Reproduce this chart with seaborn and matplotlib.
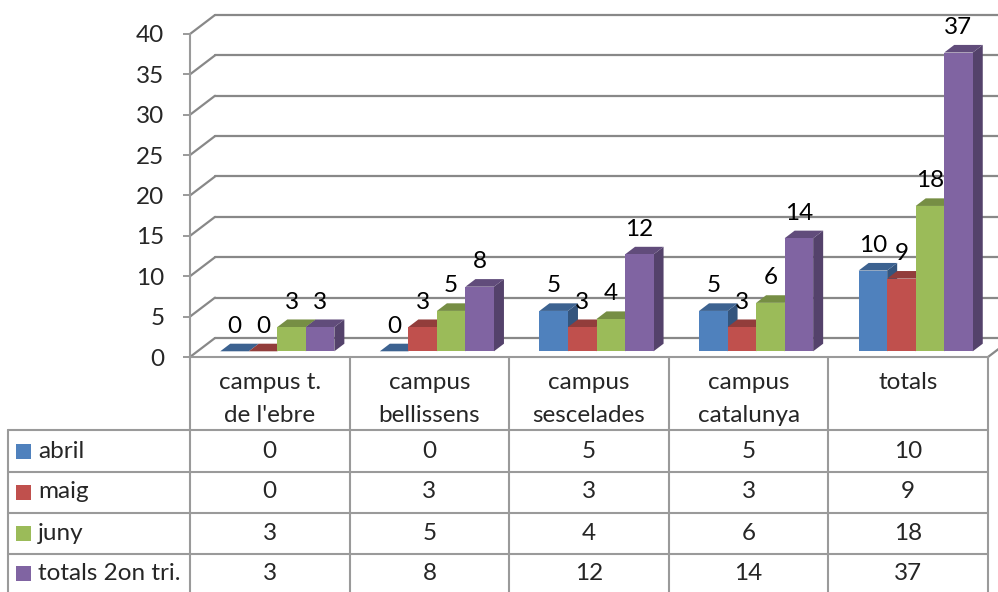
import numpy as np
import pandas as pd
import matplotlib
matplotlib.use("Agg")
import matplotlib.pyplot as plt
import matplotlib.colors as mcolors
import seaborn as sns
from matplotlib.patches import Polygon, Rectangle
from matplotlib.transforms import Affine2D, blended_transform_factory

# === DATA
campus = ["campus t.\nde l'ebre", "campus\nbellissens", "campus\nsescelades",
          "campus\ncatalunya", "totals"]
series = ["abril", "maig", "juny", "totals 2on tri."]
abril = [0, 0, 5, 5, 10]
maig = [0, 3, 3, 3, 9]
juny = [3, 5, 4, 6, 18]
totals_tri = [3, 8, 12, 14, 37]
colors = ["#4F81BD", "#C0504D", "#9BBB59", "#8064A2"]
yticks = [0, 5, 10, 15, 20, 25, 30, 35, 40]

values = [abril, maig, juny, totals_tri]
df = pd.DataFrame({
    "campus": campus * len(series),
    "serie": np.repeat(series, len(campus)),
    "value": abril + maig + juny + totals_tri,
})

# === STYLE
sns.set_style("white")
plt.rcParams["font.family"] = ["Lato", "DejaVu Sans"]
FS = 17.5
GRID = "#888888"
LINE = "#9a9a9a"

W, H = 998, 592
fig = plt.figure(figsize=(W / 100, H / 100), dpi=100)
# axes = front plane of the 3d box (front-left corner at x=190, floor at y=357)
ax = fig.add_axes([190 / W, (H - 357) / H, 798 / W, 323 / H])
ax.set_xlim(-0.5, 4.5)
ax.set_ylim(0, 40)

sns.barplot(data=df, x="campus", y="value", hue="serie", order=campus,
            hue_order=series, palette=colors, saturation=1, width=0.715,
            errorbar=None, legend=False, linewidth=0, ax=ax)
ax.set_xlim(-0.5, 4.5)
ax.set_ylim(0, 40)

# pixel -> data conversion
p0 = ax.transData.transform((0, 0))
p1 = ax.transData.transform((1, 1))
ppx, ppy = p1[0] - p0[0], p1[1] - p0[1]

def d(px, py):
    return px / ppx, py / ppy

# depth of the box and of the bars (pixels)
BOX_DX, BOX_DY = 25, 19
BAR_SHIFT = (7.5, 5.7)
BAR_DX, BAR_DY = d(10, 7.6)
bar_tr = ax.transData + Affine2D().translate(*BAR_SHIFT)

# === BACK WALL, LEFT WALL, FLOOR
bx, by = d(BOX_DX, BOX_DY)
for v in yticks:
    ax.plot([-0.5 + bx, 4.5 + bx], [v + by, v + by], color=GRID, lw=1.6,
            clip_on=False, zorder=0.5)
    ax.plot([-0.5, -0.5 + bx], [v, v + by], color=GRID, lw=1.6,
            clip_on=False, zorder=0.5)
ax.plot([4.5, 4.5 + bx], [0, by], color=GRID, lw=1.6, clip_on=False, zorder=0.5)

# === 3D BARS
bars = sorted(ax.patches, key=lambda p: p.get_x())
for k, p in enumerate(bars):
    x, w, h = p.get_x(), p.get_width(), p.get_height()
    col = np.array(mcolors.to_rgb(p.get_facecolor()))
    p.set_transform(bar_tr)
    p.set_zorder(3 + k * 0.01 + 0.005)
    p.set_clip_on(False)
    top = Polygon([(x, h), (x + w, h), (x + w + BAR_DX, h + BAR_DY), (x + BAR_DX, h + BAR_DY)],
                  closed=True, facecolor=col * 0.76, edgecolor="none",
                  transform=bar_tr, zorder=3 + k * 0.01, clip_on=False)
    side = Polygon([(x + w, 0), (x + w, h), (x + w + BAR_DX, h + BAR_DY), (x + w + BAR_DX, BAR_DY)],
                   closed=True, facecolor=col * 0.66, edgecolor="none",
                   transform=bar_tr, zorder=3 + k * 0.01, clip_on=False)
    ax.add_patch(side)
    ax.add_patch(top)
    ax.annotate(f"{h:g}", (x + w / 2, h), xytext=(BAR_SHIFT[0], BAR_SHIFT[1] + 25),
                textcoords="offset pixels", ha="center", va="center",
                fontsize=FS, color="black", zorder=10)

# === AXES
ax.set_yticks(yticks)
ax.set_xticks([])
ax.set_xlabel("")
ax.set_ylabel("")
ax.tick_params(axis="y", direction="out", length=5, width=1.4, color=LINE,
               labelsize=FS, pad=13.5, left=True)
for s in ["top", "right"]:
    ax.spines[s].set_visible(False)
for s in ["left", "bottom"]:
    ax.spines[s].set_color(LINE)
    ax.spines[s].set_linewidth(1.5)
ax.patch.set_alpha(0)

# === DATA TABLE
img = Affine2D().scale(1, -1).translate(0, H)
col_tr = blended_transform_factory(ax.transData, img)
left_edge = ax.transData.inverted().transform((8, 0))[0]
row_edges = [430, 472, 513, 554]
row_centers = [451, 492, 533, 573]

for i in range(len(campus) + 1):
    ax.plot([i - 0.5, i - 0.5], [357, H], color=LINE, lw=1.5, transform=col_tr, clip_on=False)
ax.plot([left_edge, left_edge], [430, H], color=LINE, lw=1.5, transform=col_tr, clip_on=False)
for y in row_edges:
    ax.plot([left_edge, 4.5], [y, y], color=LINE, lw=1.5, transform=col_tr, clip_on=False)

for i, c in enumerate(campus):
    ax.text(i, 372, c, transform=col_tr, ha="center", va="top", fontsize=FS,
            linespacing=1.68)

for j, (name, vals) in enumerate(zip(series, values)):
    yc = row_centers[j]
    ax.add_patch(Rectangle((16, yc - 7.5), 15, 15, transform=img, facecolor=colors[j],
                           edgecolor="none", clip_on=False))
    ax.text(38, yc, name, transform=img, ha="left", va="center", fontsize=FS)
    for i, v in enumerate(vals):
        ax.text(i, yc, str(v), transform=col_tr, ha="center", va="center", fontsize=FS)

fig.savefig("out.png", dpi=100)
